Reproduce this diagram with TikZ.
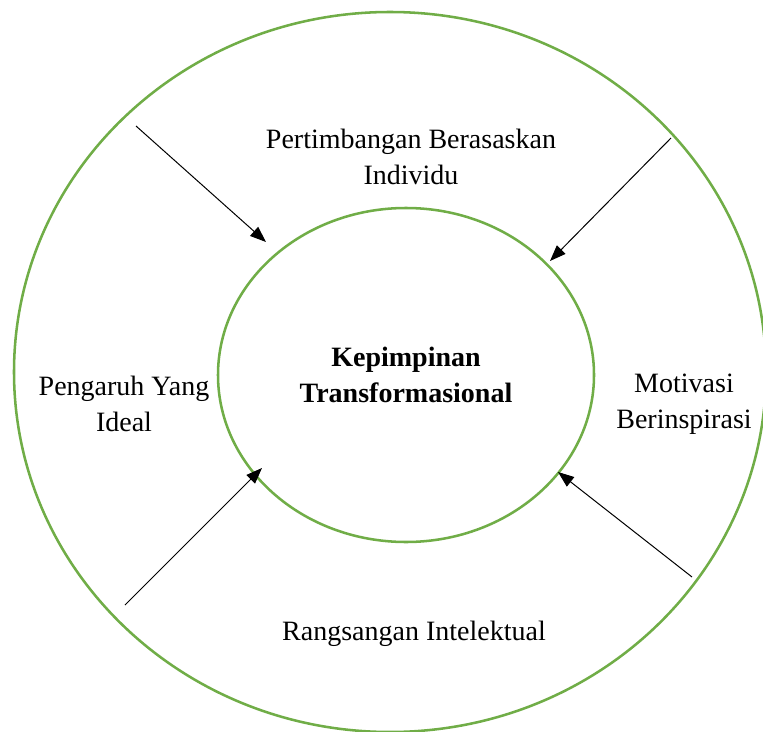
\documentclass[tikz,border=0pt]{standalone}
\usepackage{fontspec}
\setmainfont{Liberation Serif}
\usetikzlibrary{arrows.meta,shapes.geometric}
\definecolor{ringgreen}{RGB}{112,173,71}
\begin{document}
\begin{tikzpicture}[x=0.75pt,y=-0.75pt,
  ring/.style={ellipse,draw=ringgreen,line width=1.9pt,inner sep=0pt},
  lbl/.style={align=center,font=\fontsize{21}{27}\selectfont,inner sep=0pt},
  arr/.style={line width=0.75pt,-{Triangle[length=12pt,width=9pt]}}]
\useasboundingbox (0,0) rectangle (763,731);
\node[ring,minimum width=564pt,minimum height=540pt] (outer) at (390,372) {};
\node[ring,minimum width=282pt,minimum height=250.5pt] (inner) at (406,375) {};
\node[lbl,font=\fontsize{21}{27}\selectfont\bfseries] (center) at (406,375) {Kepimpinan\\Transformasional};
\node[lbl] (top) at (411,157) {Pertimbangan Berasaskan\\Individu};
\node[lbl] (left) at (124,404) {Pengaruh Yang\\Ideal};
\node[lbl] (right) at (684,404) {Motivasi\\Berinspirasi};
\node[lbl] (bottom) at (414,634) {Rangsangan Intelektual};
\coordinate (tls) at (136,126);
\coordinate (tle) at (266,242);
\coordinate (trs) at (671,138);
\coordinate (tre) at (550,261);
\coordinate (bls) at (125,605);
\coordinate (ble) at (262,468);
\coordinate (brs) at (692,577);
\coordinate (bre) at (558,472);
\draw[arr] (tls) -- (tle);
\draw[arr] (trs) -- (tre);
\draw[arr] (bls) -- (ble);
\draw[arr] (brs) -- (bre);
\end{tikzpicture}
\end{document}
